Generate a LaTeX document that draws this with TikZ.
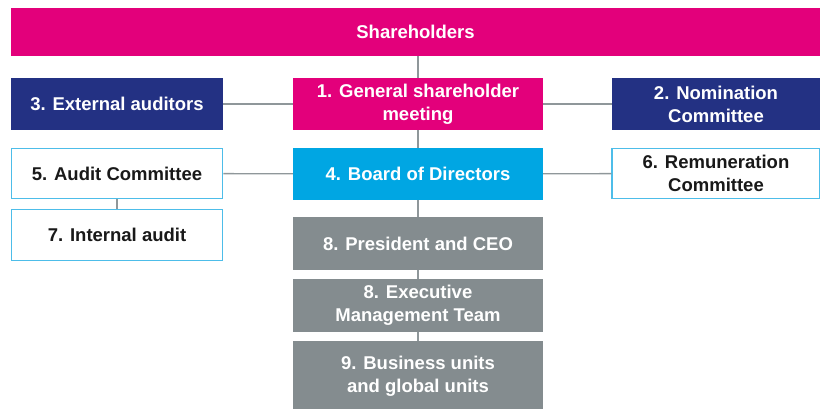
\documentclass[tikz,border=0pt]{standalone}
\usepackage{fontspec}
\setmainfont{Liberation Sans}
\definecolor{govmagenta}{HTML}{E3007B}
\definecolor{govnavy}{HTML}{233183}
\definecolor{govblue}{HTML}{00A6E3}
\definecolor{govgray}{HTML}{848C8F}
\definecolor{govline}{HTML}{8F979A}
\definecolor{govframe}{HTML}{4DBDE9}

\tikzset{gnode/.style = {shape = rectangle,
                         inner sep=0pt,
                         align=center,
                         minimum height = 52pt,
                         text = white,
                         font=\fontsize{18.5}{23}\selectfont\bfseries},
         fillnode/.style = {gnode, fill=#1},
         framenode/.style = {gnode, fill=white, draw=govframe,
                             line width=1.5pt, text=black!90},
         gline/.style = {draw=govline, line width=1.4pt}}

\begin{document}
\begin{tikzpicture}[x=1pt,y=-1pt]
		\useasboundingbox (0,0) rectangle (820,408);
		\node[fillnode=govmagenta, minimum width=809pt, minimum height=48pt] (0) at (415.5,32) {Shareholders};
		\node[fillnode=govmagenta, minimum width=250pt] (1) at (418,104) {1. General shareholder\\meeting};
		\node[fillnode=govnavy, minimum width=208pt] (2) at (716,104) {2. Nomination\\Committee};
		\node[fillnode=govnavy, minimum width=212pt] (3) at (117,104) {3. External auditors};
		\node[fillnode=govblue, minimum width=250pt] (4) at (418,174) {4. Board of Directors};
		\node[framenode, minimum width=211pt, minimum height=50pt] (5) at (117,173.5) {5. Audit Committee};
		\node[framenode, minimum width=208pt, minimum height=50pt] (6) at (716,173.5) {6. Remuneration\\Committee};
		\node[framenode, minimum width=211pt, minimum height=51pt] (7) at (117,235) {7. Internal audit};
		\node[fillnode=govgray, minimum width=250pt, minimum height=53pt] (8) at (418,243.5) {8. President and CEO};
		\node[fillnode=govgray, minimum width=250pt, minimum height=53pt] (8b) at (418,305.5) {8. Executive\\Management Team};
		\node[fillnode=govgray, minimum width=250pt, minimum height=70pt] (9) at (418,376) {9. Business units\\and global units};
		\path[gline] (1.north |- 0.south) edge (1.north);
		\path[gline] (3) edge (1);
		\path[gline] (1) edge (2);
		\path[gline] (1) edge (4);
		\path[gline] (5) edge (4);
		\path[gline] (4) edge (6);
		\path[gline] (5) edge (7);
		\path[gline] (4) edge (8);
		\path[gline] (8) edge (8b);
		\path[gline] (8b) edge (9);
	\end{tikzpicture}
\end{document}
